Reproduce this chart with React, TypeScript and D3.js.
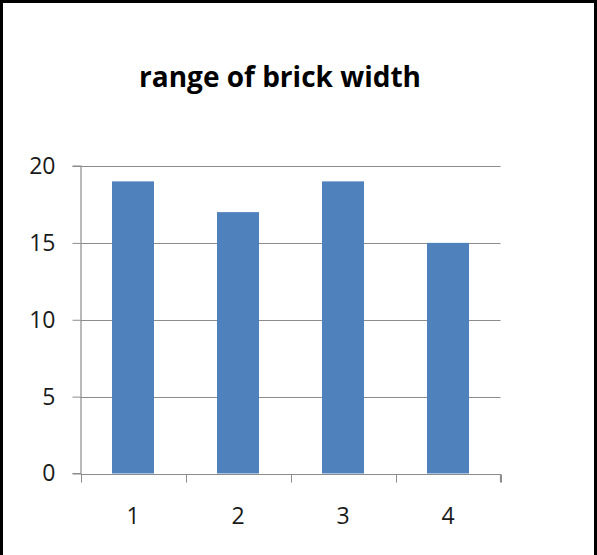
import { useEffect, useRef } from 'react';
import { select, scaleBand, scaleLinear, axisLeft, axisBottom } from 'd3';

const categories = ['1', '2', '3', '4'];
const values = [19, 17, 19, 15];
const yTicks = [0, 5, 10, 15, 20];
const title = 'range of brick width';

const W = 597;
const H = 555;
const margin = { left: 80.5, right: 96.5, top: 166, bottom: 81.5 };

const App = () => {
  const svgRef = useRef<SVGSVGElement>(null);

  useEffect(() => {
    const svg = select(svgRef.current);
    svg.selectAll('*').remove();

    const x0 = margin.left;
    const x1 = W - margin.right;
    const y0 = H - margin.bottom;
    const y1 = margin.top;

    const xScale = scaleBand<string>()
      .domain(categories)
      .range([x0, x1])
      .paddingInner(0.6)
      .paddingOuter(0.3);
    const yScale = scaleLinear().domain([0, 20]).range([y0, y1]);

    // frame
    svg
      .append('rect')
      .attr('x', 1.5)
      .attr('y', 1.5)
      .attr('width', W - 3)
      .attr('height', H + 10)
      .attr('fill', 'white')
      .attr('stroke', 'black')
      .attr('stroke-width', 3);

    svg
      .append('text')
      .attr('x', 280)
      .attr('y', 87)
      .attr('text-anchor', 'middle')
      .attr('font-family', '"Open Sans", sans-serif')
      .attr('font-weight', 'bold')
      .attr('font-size', 28)
      .text(title);

    // gridlines
    svg
      .append('g')
      .selectAll('line')
      .data(yTicks.filter((t) => t > 0))
      .join('line')
      .attr('x1', x0)
      .attr('x2', x1)
      .attr('y1', (d) => Math.round(yScale(d)) + 0.5)
      .attr('y2', (d) => Math.round(yScale(d)) + 0.5)
      .attr('stroke', '#8c8c8c')
      .attr('stroke-width', 1.2);

    svg
      .append('g')
      .selectAll('rect')
      .data(values)
      .join('rect')
      .attr('x', (_, i) => xScale(categories[i])!)
      .attr('width', xScale.bandwidth())
      .attr('y', (d) => yScale(d))
      .attr('height', (d) => y0 - yScale(d))
      .attr('fill', '#4f81bd');

    const yAxis = axisLeft(yScale).tickValues(yTicks).tickSize(8).tickPadding(17);
    const gy = svg
      .append('g')
      .attr('transform', `translate(${x0},0)`)
      .call(yAxis);

    const xAxis = axisBottom(xScale).tickSize(0).tickPadding(33);
    const gx = svg
      .append('g')
      .attr('transform', `translate(0,${Math.round(y0) + 0.5})`)
      .call(xAxis);

    // category boundary ticks
    const step = xScale.step();
    gx.selectAll('line.bound')
      .data([0, 1, 2, 3, 4])
      .join('line')
      .attr('class', 'bound')
      .attr('x1', (d) => Math.round(x0 + d * step) + 0.5)
      .attr('x2', (d) => Math.round(x0 + d * step) + 0.5)
      .attr('y1', 0)
      .attr('y2', 8)
      .attr('stroke', '#8c8c8c');

    [gy, gx].forEach((g) => {
      g.select('.domain').attr('stroke', '#8c8c8c').attr('stroke-width', 1.2);
      g.selectAll('.tick line').attr('stroke', '#8c8c8c');
      g.selectAll('.tick text')
        .attr('font-family', '"Open Sans", sans-serif')
        .attr('font-size', 23)
        .attr('fill', '#1a1a1a');
    });
    gy.select('.domain').attr('d', `M-8,${y0}H0.5V${y1}H-8`);
    gx.select('.domain').attr('d', `M${x0},0H${x1}V8`);
  }, []);

  return (
    <div>
      <svg ref={svgRef} width={W} height={H} style={{ position: 'absolute', left: 0, top: 0 }} />
    </div>
  );
};

export default App;
